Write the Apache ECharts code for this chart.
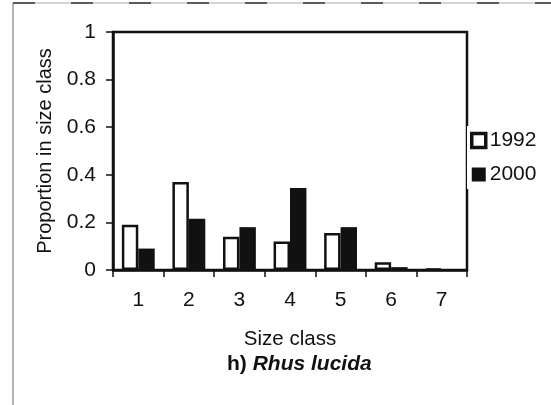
<!DOCTYPE html>
<html>
<head>
<meta charset="utf-8">
<script src="https://cdn.jsdelivr.net/npm/echarts@6/dist/echarts.min.js"></script>
<style>
  html, body { margin: 0; padding: 0; background: #fff; }
  #chart { width: 551px; height: 405px; }
</style>
</head>
<body>
<div id="chart"></div>
<script>
// Size-class distribution of Rhus lucida in two survey years
const sizeClasses = ['1', '2', '3', '4', '5', '6', '7'];
const values1992 = [0.19, 0.37, 0.14, 0.12, 0.155, 0.033, 0.005];
const values2000 = [0.09, 0.215, 0.18, 0.345, 0.18, 0.012, 0.004];
const yTicks = [0, 0.2, 0.4, 0.6, 0.8, 1];

const FONT = '"Liberation Sans", Arial, sans-serif';
const INK = '#111';

const chart = echarts.init(document.getElementById('chart'), null, { renderer: 'canvas' });

chart.setOption({
  animation: false,
  backgroundColor: '#fff',
  textStyle: { fontFamily: FONT, color: INK },
  grid: {
    left: 113, right: 84, top: 32, bottom: 135,
    show: true, borderColor: INK, borderWidth: 2.5, backgroundColor: 'transparent'
  },
  graphic: [
    // outer panel frame
    { type: 'line', shape: { x1: 13, y1: 3, x2: 13, y2: 405 },
      style: { stroke: '#9a9a9a', lineWidth: 1.5 }, silent: true },
    { type: 'line', shape: { x1: 13, y1: 3, x2: 551, y2: 3 },
      style: { stroke: '#aaaaaa', lineWidth: 1 }, silent: true },
    { type: 'line', shape: { x1: 13, y1: 3, x2: 551, y2: 3 },
      style: { stroke: '#333', lineWidth: 1.5, lineDash: [22, 36] }, silent: true }
  ],
  title: {
    text: '{a|h) }{b|Rhus lucida}',
    left: 222, top: 349,
    textStyle: {
      rich: {
        a: { fontFamily: FONT, fontSize: 21, fontWeight: 'bold', color: INK },
        b: { fontFamily: FONT, fontSize: 21, fontWeight: 'bold', fontStyle: 'italic', color: INK }
      }
    }
  },
  legend: {
    orient: 'vertical',
    left: 467, top: 126,
    itemWidth: 14, itemHeight: 14, itemGap: 13,
    backgroundColor: '#fff',
    padding: [4, 3, 4, 3],
    textStyle: { fontFamily: FONT, fontSize: 21, color: INK, padding: [0, 0, 0, -1] },
    data: [
      { name: '1992', icon: 'rect', itemStyle: { color: '#fff', borderColor: INK, borderWidth: 3.5 } },
      { name: '2000', icon: 'rect', itemStyle: { color: INK, borderWidth: 0 } }
    ]
  },
  xAxis: {
    type: 'category',
    data: sizeClasses,
    name: 'Size class',
    nameLocation: 'middle',
    nameGap: 59,
    nameTextStyle: { fontFamily: FONT, fontSize: 20.5, color: INK },
    axisLine: { lineStyle: { color: INK, width: 2.5 } },
    axisTick: { show: true, alignWithLabel: false, length: 7, lineStyle: { color: INK, width: 1.5 } },
    axisLabel: { fontFamily: FONT, fontSize: 21, color: INK, margin: 20 },
    splitLine: { show: false }
  },
  yAxis: {
    type: 'value',
    min: yTicks[0], max: yTicks[yTicks.length - 1], interval: 0.2,
    name: 'Proportion in size class',
    nameLocation: 'middle',
    nameGap: 56,
    nameTextStyle: { fontFamily: FONT, fontSize: 20, color: INK },
    axisLine: { show: true, lineStyle: { color: INK, width: 2.5 } },
    axisTick: { show: true, length: 7, lineStyle: { color: INK, width: 1.5 } },
    axisLabel: { fontFamily: FONT, fontSize: 21, color: INK, margin: 17,
      formatter: v => String(Math.round(v * 10) / 10) },
    splitLine: { show: false }
  },
  series: [
    {
      name: '1992', type: 'bar', data: values1992,
      barGap: '0%', barCategoryGap: '35%',
      itemStyle: { color: '#fff', borderColor: INK, borderWidth: 2.5 }
    },
    {
      name: '2000', type: 'bar', data: values2000,
      barGap: '0%', barCategoryGap: '35%',
      itemStyle: { color: INK, borderWidth: 0 }
    }
  ]
});
</script>
</body>
</html>
